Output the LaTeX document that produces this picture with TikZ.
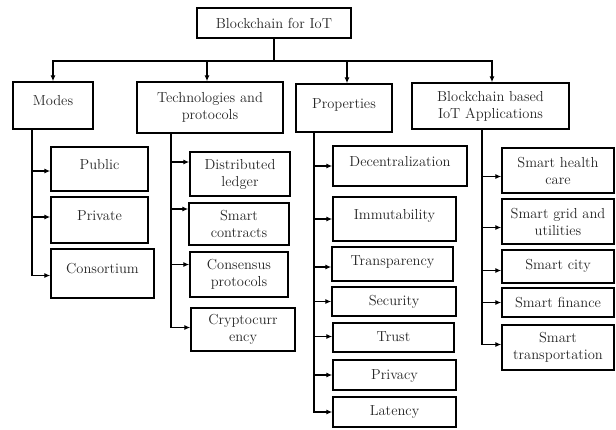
\documentclass[tikz,border=0pt]{standalone}
\usetikzlibrary{arrows.meta}
\tikzset{
  bx/.style={draw=black, line width=1.4pt, rectangle, inner sep=0pt, align=center,
    text=black!85, font=\fontsize{14.5}{17}\selectfont},
  sl/.style={text height=10pt, text depth=#1},
  conn/.style={line width=1.4pt, draw=black},
  arr/.style={conn, -{Latex[length=6pt,width=5pt]}},
}
\newcommand\bx[7]{\node[bx,#6,minimum width={(#4-#2)*1pt},minimum height={(#5-#3)*1pt}] (#1) at ({(#2+#4)/2},{(#3+#5)/2}) {#7};}
\begin{document}
\begin{tikzpicture}[x=1pt,y=-1pt]
\useasboundingbox[fill=white] (0,0) rectangle (616,429);
% top
\bx{root}{197}{8}{351}{38}{sl=0pt}{Blockchain for IoT}
\bx{modes}{13}{82}{93}{129}{sl=9.6pt}{Modes}
\bx{tech}{137}{82}{283}{133}{}{Technologies and\\protocols}
\bx{props}{296}{84}{392}{132}{sl=10pt}{Properties}
\bx{apps}{412}{83}{569}{129}{}{Blockchain based\\IoT Applications}
% modes
\bx{public}{51}{147}{148}{191}{sl=10pt}{Public}
\bx{private}{51}{197}{148}{243}{sl=8.6pt}{Private}
\bx{consort}{51}{249}{154}{298}{sl=10.4pt}{Consortium}
% tech
\bx{dl}{190}{152}{290}{196}{}{Distributed\\ledger}
\bx{sc}{189}{203}{289}{245}{}{Smart\\contracts}
\bx{cp}{190}{252}{288}{297}{}{Consensus\\protocols}
\bx{cr}{191}{308}{295}{351}{}{Cryptocurr\\ency}
% properties
\bx{dec}{333}{146}{467}{186}{sl=8.6pt}{Decentralization}
\bx{imm}{333}{197}{456}{241}{sl=9.4pt}{Immutability}
\bx{trans}{332}{247}{453}{281}{sl=6.6pt}{Transparency}
\bx{sec}{332}{287}{456}{316}{sl=1.6pt}{Security}
\bx{trust}{333}{323}{454}{352}{sl=1.6pt}{Trust}
\bx{priv}{333}{360}{456}{390}{sl=1.4pt}{Privacy}
\bx{lat}{333}{397}{456}{427}{sl=2.6pt}{Latency}
% apps
\bx{shc}{502}{148}{614}{193}{}{Smart health\\care}
\bx{sgu}{502}{199}{614}{244}{}{Smart grid and\\utilities}
\bx{scity}{502}{250}{614}{283}{sl=5pt}{Smart city}
\bx{sfin}{502}{288}{614}{317}{sl=0pt}{Smart finance}
\bx{stra}{502}{325}{614}{370}{}{Smart\\transportation}
% top connectors
\coordinate (bus) at (274,61);
\draw[conn] (root.south) -- (bus);
\draw[arr] (bus) -| (modes.north);
\draw[arr] (bus) -| ([xshift=-3pt]tech.north);
\draw[arr] (bus) -| ([xshift=3pt]props.north);
\draw[arr] (bus) -| ([xshift=1.5pt]apps.north);
% modes
\draw[arr] ([xshift=-21pt]modes.south) |- ([yshift=-2pt]public.west);
\draw[arr] ([xshift=-21pt]modes.south) |- ([yshift=3pt]private.west);
\draw[arr] ([xshift=-21pt]modes.south) |- ([yshift=-2pt]consort.west);
% tech
\draw[arr] ([xshift=-39pt]tech.south) |- ([yshift=12pt]dl.west);
\draw[arr] ([xshift=-39pt]tech.south) |- ([yshift=15pt]sc.west);
\draw[arr] ([xshift=-39pt]tech.south) |- ([yshift=10pt]cp.west);
\draw[arr] ([xshift=-39pt]tech.south) |- ([yshift=2pt]cr.west);
% properties
\draw[arr] ([xshift=-30pt]props.south) |- (dec.west);
\draw[arr] ([xshift=-30pt]props.south) |- (imm.west);
\draw[arr] ([xshift=-30pt]props.south) |- ([yshift=-3pt]trans.west);
\draw[arr] ([xshift=-30pt]props.south) |- (sec.west);
\draw[arr] ([xshift=-30pt]props.south) |- ([yshift=1pt]trust.west);
\draw[arr] ([xshift=-30pt]props.south) |- (priv.west);
\draw[arr] ([xshift=-30pt]props.south) |- (lat.west);
% apps
\draw[arr] ([xshift=-8.5pt]apps.south) |- ([yshift=-6pt]shc.west);
\draw[arr] ([xshift=-8.5pt]apps.south) |- ([yshift=-6pt]sgu.west);
\draw[arr] ([xshift=-8.5pt]apps.south) |- ([yshift=-4pt]scity.west);
\draw[arr] ([xshift=-8.5pt]apps.south) |- (sfin.west);
\draw[arr] ([xshift=-8.5pt]apps.south) |- ([yshift=3pt]stra.west);
\end{tikzpicture}
\end{document}
